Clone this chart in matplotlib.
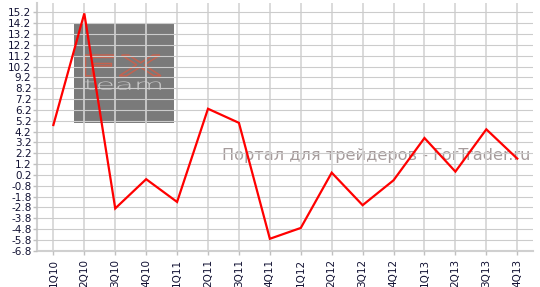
import matplotlib
matplotlib.use("Agg")
import matplotlib.pyplot as plt
from matplotlib.patches import Rectangle, PathPatch
from matplotlib.textpath import TextPath
from matplotlib.font_manager import FontProperties
from matplotlib.transforms import Affine2D
import numpy as np

quarters = ["1Q10", "2Q10", "3Q10", "4Q10", "1Q11", "2Q11", "3Q11", "4Q11",
            "1Q12", "2Q12", "3Q12", "4Q12", "1Q13", "2Q13", "3Q13", "4Q13"]
values = [4.8, 15.1, -2.9, -0.2, -2.3, 6.3, 5.0, -5.7,
          -4.7, 0.4, -2.6, -0.3, 3.6, 0.5, 4.4, 1.7]
y_ticks = [round(-6.8 + i, 1) for i in range(23)]
y_tick_labels = ["%.1f" % v for v in y_ticks]
watermark = "Портал для трейдеров - ForTrader.ru"

plt.rcParams['font.family'] = ['DejaVu Sans']
fig = plt.figure(figsize=(5.4, 2.87), dpi=100)
ax = fig.add_axes([0.0685, 0.1265, 0.918, 0.863])

x = np.arange(len(quarters))
ax.set_xlim(-0.53, len(quarters) - 0.5)
ax.set_ylim(-6.8, 16.06)


def fitted_text(s, x0, y0, x1, y1, props, **kw):
    tp = TextPath((0, 0), s, size=1, prop=props)
    ext = tp.get_extents()
    tr = (Affine2D().translate(-ext.x0, -ext.y0)
          .scale((x1 - x0) / ext.width, (y1 - y0) / ext.height)
          .translate(x0, y0) + ax.transAxes)
    ax.add_patch(PathPatch(tp, transform=tr, **kw))


# logo box
ax.add_patch(Rectangle((0.0746, 0.517), 0.2018, 0.403, transform=ax.transAxes,
                       facecolor="#7a7a7a", edgecolor="none", zorder=0.5))
fitted_text("FX", 0.098, 0.706, 0.250, 0.790,
            FontProperties(family="DejaVu Sans", weight="normal"),
            facecolor="#7a7a7a", edgecolor="#c4624f", lw=1.1, zorder=0.6)
fitted_text("team", 0.097, 0.649, 0.250, 0.692,
            FontProperties(family="DejaVu Sans", weight=200),
            facecolor="#c6c6c6", edgecolor="none", zorder=0.6)

# watermark
ax.text(0.995, 0.385, watermark, transform=ax.transAxes, ha="right", va="center",
        fontsize=11.6, color="#a69c9c", zorder=1.5)

ax.plot(x, values, color="#ff0000", lw=1.6, zorder=3, solid_joinstyle="miter")

ax.set_yticks(y_ticks)
ax.set_yticklabels(y_tick_labels)
ax.set_xticks(x)
ax.set_xticklabels(quarters, rotation=90)

ax.grid(axis="y", color="#cccccc", lw=0.8, zorder=1)
ax.grid(axis="x", color="#d4d4d4", lw=1.2, zorder=1)
ax.set_axisbelow(False)

for s in ["top", "right"]:
    ax.spines[s].set_visible(False)
for s in ["left", "bottom"]:
    ax.spines[s].set_color("#d0d0d0")
    ax.spines[s].set_linewidth(1.5)
    ax.spines[s].set_zorder(1)

ax.tick_params(axis="y", labelsize=7.5, colors="#c0c0c0", labelcolor="#111133",
               length=3, width=1, pad=1)
ax.tick_params(axis="x", labelsize=7.5, colors="#c0c0c0", labelcolor="#111133",
               length=3, width=1, pad=3)

fig.savefig("out.png", dpi=100)
